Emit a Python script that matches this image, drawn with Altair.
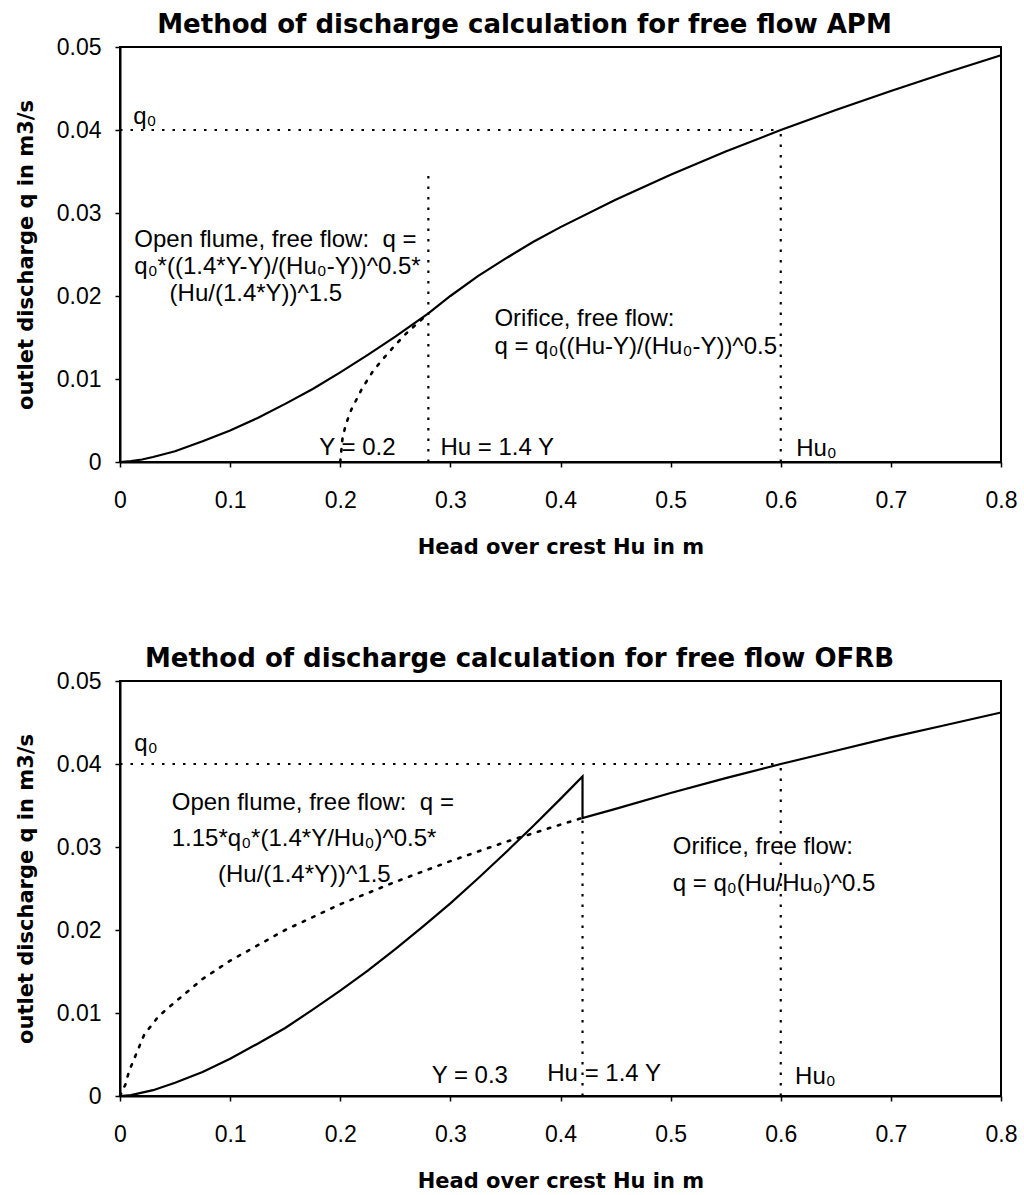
import altair as alt
import pandas as pd

X_TICKS = [0, 0.1, 0.2, 0.3, 0.4, 0.5, 0.6, 0.7, 0.8]
Y_TICKS = [0, 0.01, 0.02, 0.03, 0.04, 0.05]
X_TITLE = "Head over crest Hu in m"
Y_TITLE = "outlet discharge q in m3/s"

# ---------------- top chart : APM ----------------
apm_title = "Method of discharge calculation for free flow APM"
apm_hu = [0, 0.01, 0.02, 0.03, 0.05, 0.075, 0.1, 0.125, 0.15, 0.175, 0.2, 0.225,
          0.25, 0.28, 0.3, 0.325, 0.35, 0.375, 0.4, 0.45, 0.5, 0.55, 0.6, 0.65,
          0.7, 0.75, 0.8]
apm_q = [0, 0.0001, 0.0003, 0.0006, 0.0013, 0.0025, 0.0038, 0.0053, 0.0070, 0.0088,
         0.0108, 0.0129, 0.0151, 0.0179, 0.0200, 0.0224, 0.0245, 0.0265, 0.0283,
         0.0316, 0.0346, 0.0374, 0.0400, 0.0424, 0.0447, 0.0469, 0.0490]
apm_dot_hu = [0.2, 0.202, 0.205, 0.21, 0.22, 0.23, 0.24, 0.25, 0.26, 0.27, 0.28]
apm_dot_q = [0, 0.0028, 0.0045, 0.0063, 0.0089, 0.0110, 0.0126, 0.0141, 0.0155,
             0.0167, 0.0179]
apm_vline_hu = [0.28, 0.6]
apm_vline_top = [0.0345, 0.0400]
apm_q0 = 0.04
apm_q0_end = 0.6
apm_notes = ["q\u2080",
             "Open flume, free flow:\u00a0 q =",
             "q\u2080*((1.4*Y-Y)/(Hu\u2080-Y))^0.5*",
             "(Hu/(1.4*Y))^1.5",
             "Orifice, free flow:",
             "q = q\u2080((Hu-Y)/(Hu\u2080-Y))^0.5",
             "Y = 0.2",
             "Hu = 1.4 Y",
             "Hu\u2080"]
apm_note_hu = [0.012, 0.013, 0.013, 0.045, 0.340, 0.340, 0.181, 0.291, 0.614]
apm_note_q = [0.0416, 0.0267, 0.0235, 0.0203, 0.0172, 0.0139, 0.0017, 0.0017, 0.0016]

# ---------------- bottom chart : OFRB ----------------
ofrb_title = "Method of discharge calculation for free flow OFRB"
ofrb_hu = [0, 0.01, 0.02, 0.03, 0.05, 0.075, 0.1, 0.125, 0.15, 0.175, 0.2, 0.225,
           0.25, 0.275, 0.3, 0.325, 0.35, 0.375, 0.4, 0.42, 0.42, 0.45, 0.5, 0.55,
           0.6, 0.65, 0.7, 0.75, 0.8]
ofrb_q = [0, 0.0001, 0.0004, 0.0007, 0.0016, 0.0029, 0.0045, 0.0063, 0.0082, 0.0104,
          0.0127, 0.0151, 0.0177, 0.0204, 0.0232, 0.0262, 0.0293, 0.0325, 0.0358,
          0.0385, 0.0335, 0.0346, 0.0365, 0.0383, 0.0400, 0.0416, 0.0432, 0.0447,
          0.0462]
ofrb_dot_hu = [0, 0.005, 0.008, 0.012, 0.022, 0.035, 0.048, 0.075, 0.1, 0.15, 0.2,
               0.25, 0.3, 0.35, 0.4, 0.42]
ofrb_dot_q = [0, 0.0014, 0.0029, 0.0042, 0.0074, 0.0096, 0.0111, 0.0141, 0.0163,
              0.0200, 0.0231, 0.0258, 0.0283, 0.0306, 0.0327, 0.0335]
ofrb_vline_hu = [0.42, 0.6]
ofrb_vline_top = [0.0335, 0.0400]
ofrb_q0 = 0.04
ofrb_q0_end = 0.6
ofrb_notes = ["q\u2080",
              "Open flume, free flow:\u00a0 q =",
              "1.15*q\u2080*(1.4*Y/Hu\u2080)^0.5*",
              "(Hu/(1.4*Y))^1.5",
              "Orifice, free flow:",
              "q = q\u2080(Hu/Hu\u2080)^0.5",
              "Y = 0.3",
              "Hu = 1.4 Y",
              "Hu\u2080"]
ofrb_note_hu = [0.013, 0.047, 0.047, 0.089, 0.502, 0.502, 0.283, 0.388, 0.613]
ofrb_note_q = [0.0424, 0.0353, 0.0310, 0.0266, 0.0300, 0.0256, 0.0024, 0.0026, 0.0023]

DOT = [2.5, 8]
W, H = 881, 415


def panel(title, title_x, s_hu, s_q, d_hu, d_q, v_hu, v_top, q0, q0_end, notes,
          n_hu, n_q):
    xs = alt.Scale(domain=[0, 0.8], nice=False, zero=False)
    ys = alt.Scale(domain=[0, 0.05], nice=False)
    xax = alt.Axis(title=X_TITLE, values=X_TICKS, format="~g", labelFlush=False)
    yax = alt.Axis(title=Y_TITLE, values=Y_TICKS, format="~g")

    def X(f):
        return alt.X(f"{f}:Q", scale=xs, axis=xax)

    def Y(f):
        return alt.Y(f"{f}:Q", scale=ys, axis=yax)

    solid_df = pd.DataFrame({"Hu": s_hu, "q": s_q, "i": list(range(len(s_hu)))})
    dot_df = pd.DataFrame({"Hu": d_hu, "q": d_q, "i": list(range(len(d_hu)))})
    v_df = pd.DataFrame({"Hu": v_hu, "lo": [0] * len(v_hu), "hi": v_top})
    h_df = pd.DataFrame({"a": [0], "b": [q0_end], "q": [q0]})
    n_df = pd.DataFrame({"Hu": n_hu, "q": n_q, "t": notes})
    t_df = pd.DataFrame({"t": [title]})

    solid = alt.Chart(solid_df).mark_line(color="black", strokeWidth=2.2).encode(
        x=X("Hu"), y=Y("q"), order="i:Q")
    dotted = alt.Chart(dot_df).mark_line(
        color="black", strokeWidth=2.6, strokeDash=DOT, strokeCap="round").encode(
        x=X("Hu"), y=Y("q"), order="i:Q")
    vrules = alt.Chart(v_df).mark_rule(
        color="black", strokeWidth=2.2, strokeDash=DOT).encode(
        x=X("Hu"), y=Y("lo"), y2="hi")
    hrule = alt.Chart(h_df).mark_rule(
        color="black", strokeWidth=2.2, strokeDash=DOT).encode(
        x=X("a"), x2="b", y=Y("q"))
    text = alt.Chart(n_df).mark_text(
        align="left", baseline="middle", font="Liberation Sans", fontSize=24,
        color="black").encode(x=X("Hu"), y=Y("q"), text="t:N")
    head = alt.Chart(t_df).mark_text(
        align="center", baseline="alphabetic", font="DejaVu Sans", fontSize=26,
        fontWeight="bold", color="black").encode(
        x=alt.value(title_x), y=alt.value(-14), text="t:N")

    return alt.layer(hrule, vrules, dotted, solid, text, head).properties(
        width=W, height=H)


top = panel(apm_title, W / 2 - 36, apm_hu, apm_q, apm_dot_hu, apm_dot_q,
            apm_vline_hu, apm_vline_top, apm_q0, apm_q0_end, apm_notes,
            apm_note_hu, apm_note_q)
bottom = panel(ofrb_title, W / 2 - 41, ofrb_hu, ofrb_q, ofrb_dot_hu, ofrb_dot_q,
               ofrb_vline_hu, ofrb_vline_top, ofrb_q0, ofrb_q0_end, ofrb_notes,
               ofrb_note_hu, ofrb_note_q)

chart = alt.vconcat(top, bottom, spacing=87).properties(
    padding={"left": 14, "top": 11, "right": 5, "bottom": 2},
    background="white",
).configure_axis(
    domainColor="black", domainWidth=2, tickColor="black", tickSize=5,
    tickWidth=1.5, grid=False, labelFont="Liberation Sans", labelFontSize=23,
    labelColor="black", titleFont="DejaVu Sans", titleFontSize=21,
    titleFontWeight="bold", titleColor="black",
).configure_axisX(
    labelPadding=22, titlePadding=24,
).configure_axisY(
    labelPadding=14, titlePadding=20,
).configure_view(
    stroke="black", strokeWidth=2,
)

chart.save("out.html", embed_options={"renderer": "svg", "actions": False})
